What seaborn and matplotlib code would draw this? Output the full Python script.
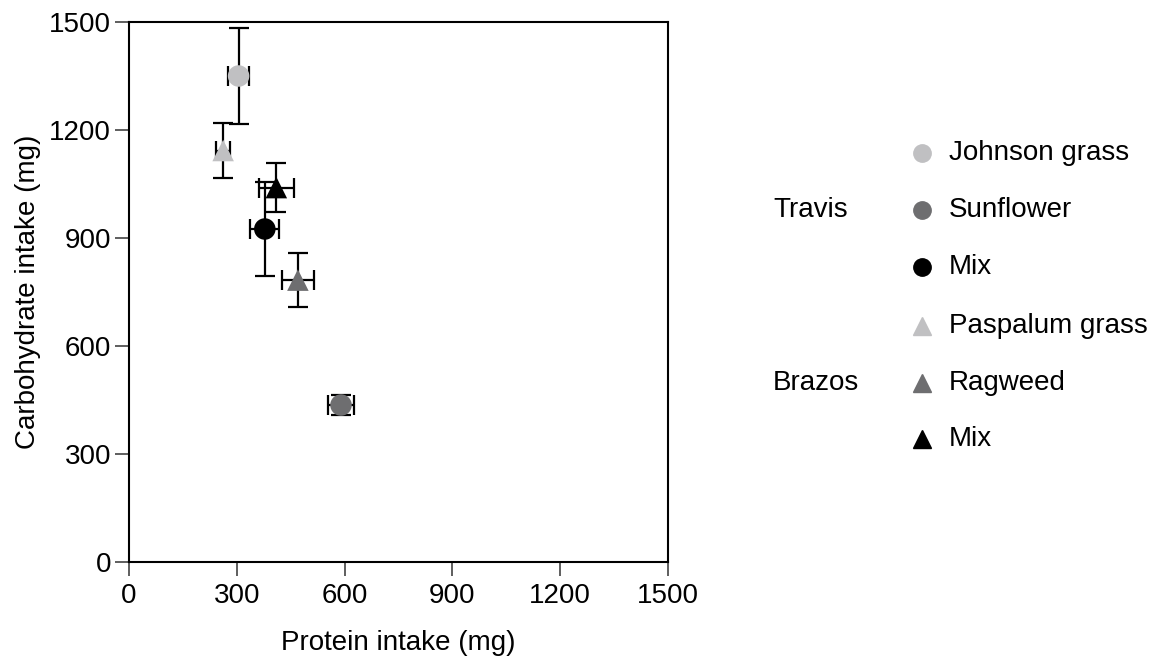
import pandas as pd
import seaborn as sns
import matplotlib.pyplot as plt
from matplotlib.lines import Line2D

# --- Data ---
sites = ['Travis', 'Travis', 'Travis', 'Brazos', 'Brazos', 'Brazos']
diets = ['Johnson grass', 'Sunflower', 'Mix', 'Paspalum grass', 'Ragweed', 'Mix']
protein = [305, 590, 378, 262, 470, 410]
protein_err = [30, 37, 40, 20, 45, 48]
carbs = [1350, 436, 925, 1143, 783, 1040]
carbs_err = [133, 28, 130, 76, 75, 67]

colors = ['#c0c0c2', '#6e6e70', '#000000', '#c0c0c2', '#6e6e70', '#000000']
markers = ['o', 'o', 'o', '^', '^', '^']

df = pd.DataFrame({
    'site': sites, 'diet': diets, 'protein': protein, 'protein_err': protein_err,
    'carbs': carbs, 'carbs_err': carbs_err,
})
df['label'] = df['site'] + ' ' + df['diet']

# --- Plotting ---
sns.set_style('ticks')
plt.rcParams['font.family'] = ['Liberation Sans', 'DejaVu Sans']
plt.rcParams['text.color'] = 'black'
plt.rcParams['axes.labelcolor'] = 'black'
plt.rcParams['xtick.color'] = '#333333'
plt.rcParams['ytick.color'] = '#333333'
plt.rcParams['xtick.labelcolor'] = 'black'
plt.rcParams['ytick.labelcolor'] = 'black'

fs = 20
fig = plt.figure(figsize=(11.59, 6.62), dpi=100)
ax = fig.add_axes([129 / 1159, 1 - 562 / 662, 539 / 1159, 540 / 662])

ax.errorbar(df['protein'], df['carbs'], xerr=df['protein_err'], yerr=df['carbs_err'],
            fmt='none', ecolor='black', elinewidth=1.6, capsize=7.5, capthick=1.6, zorder=2)

palette = dict(zip(df['label'], colors))
marker_map = dict(zip(df['label'], markers))
sns.scatterplot(data=df, x='protein', y='carbs', hue='label', style='label',
                palette=palette, markers=marker_map, s=240, edgecolor='none',
                legend=False, ax=ax, zorder=3)

ax.set_xlim(0, 1500)
ax.set_ylim(0, 1500)
ticks = [0, 300, 600, 900, 1200, 1500]
ax.set_xticks(ticks)
ax.set_yticks(ticks)
ax.tick_params(labelsize=fs, length=10, width=1.1, direction='out')
ax.tick_params(axis='x', pad=5)
ax.tick_params(axis='y', pad=3)
for sp in ax.spines.values():
    sp.set_visible(True)
    sp.set_linewidth(1.5)
    sp.set_color('black')
ax.set_xlabel('Protein intake (mg)', fontsize=fs, labelpad=15)
ax.set_ylabel('Carbohydrate intake (mg)', fontsize=fs, labelpad=6)

# --- Legend, laid out by hand in figure pixels ---
row_y = [153, 210, 267, 326, 383, 439]
for m, c, name, y in zip(markers, colors, diets, row_y):
    yf = 1 - y / 662
    fig.add_artist(Line2D([922 / 1159], [yf], linestyle='none', marker=m, color=c,
                          markersize=12.5, transform=fig.transFigure))
    fig.text(949 / 1159, yf, name, fontsize=fs, va='center', ha='left')
fig.text(773 / 1159, 1 - 210 / 662, 'Travis', fontsize=fs, va='center', ha='left')
fig.text(773 / 1159, 1 - 383 / 662, 'Brazos', fontsize=fs, va='center', ha='left')

fig.savefig('out.png', dpi=100)
